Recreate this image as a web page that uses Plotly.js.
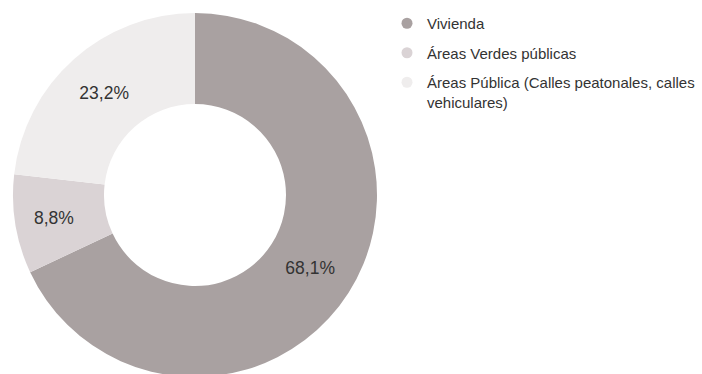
<!DOCTYPE html>
<html>
<head>
<meta charset="utf-8">
<script src="https://cdn.plot.ly/plotly-3.0.1.min.js"></script>
<style>html,body{margin:0;padding:0;overflow:hidden;background:#fff;}</style>
</head>
<body>
<div id="chart"></div>
<script>
const categories = ["Vivienda", "Áreas Verdes públicas", "Áreas Pública (Calles peatonales, calles<br>vehiculares)"];
const values = [68.1, 8.8, 23.2];
const colors = ["#a9a1a1", "#dad3d5", "#efeded"];

const data = [{
  type: "pie",
  labels: categories,
  values: values,
  hole: 0.5,
  sort: false,
  direction: "clockwise",
  rotation: 0,
  marker: {colors: colors, line: {width: 0}},
  textinfo: "text",
  texttemplate: "%{value:.1f}%",
  textposition: "inside",
  insidetextorientation: "horizontal",
  textfont: {family: "Liberation Sans, Arial, sans-serif", size: 17.5, color: "#333333"},
  domain: {x: [13/702, 377/702], y: [0, 1]},
  showlegend: false,
  hoverinfo: "label+percent"
}];

categories.forEach((c, i) => {
  data.push({
    type: "scatter",
    mode: "markers",
    x: [null], y: [null],
    name: c,
    legendgroup: "g" + i,
    marker: {symbol: "circle", size: 11, color: colors[i]},
    showlegend: true,
    hoverinfo: "skip"
  });
});

const layout = {
  width: 702,
  height: 377,
  margin: {l: 0, r: 0, t: 13, b: 0},
  paper_bgcolor: "#ffffff",
  plot_bgcolor: "#ffffff",
  separators: ",.",
  font: {family: "Liberation Sans, Arial, sans-serif", color: "#333333"},
  xaxis: {visible: false, domain: [0.6, 0.7]},
  yaxis: {visible: false},
  showlegend: true,
  legend: {
    x: 387/702, xanchor: "left",
    y: 1.0165, yanchor: "top",
    font: {size: 15, color: "#333333"},
    traceorder: "grouped",
    tracegroupgap: 7,
    valign: "top",
    bgcolor: "rgba(0,0,0,0)"
  }
};

Plotly.newPlot("chart", data, layout, {displayModeBar: false, staticPlot: true});
</script>
</body>
</html>
